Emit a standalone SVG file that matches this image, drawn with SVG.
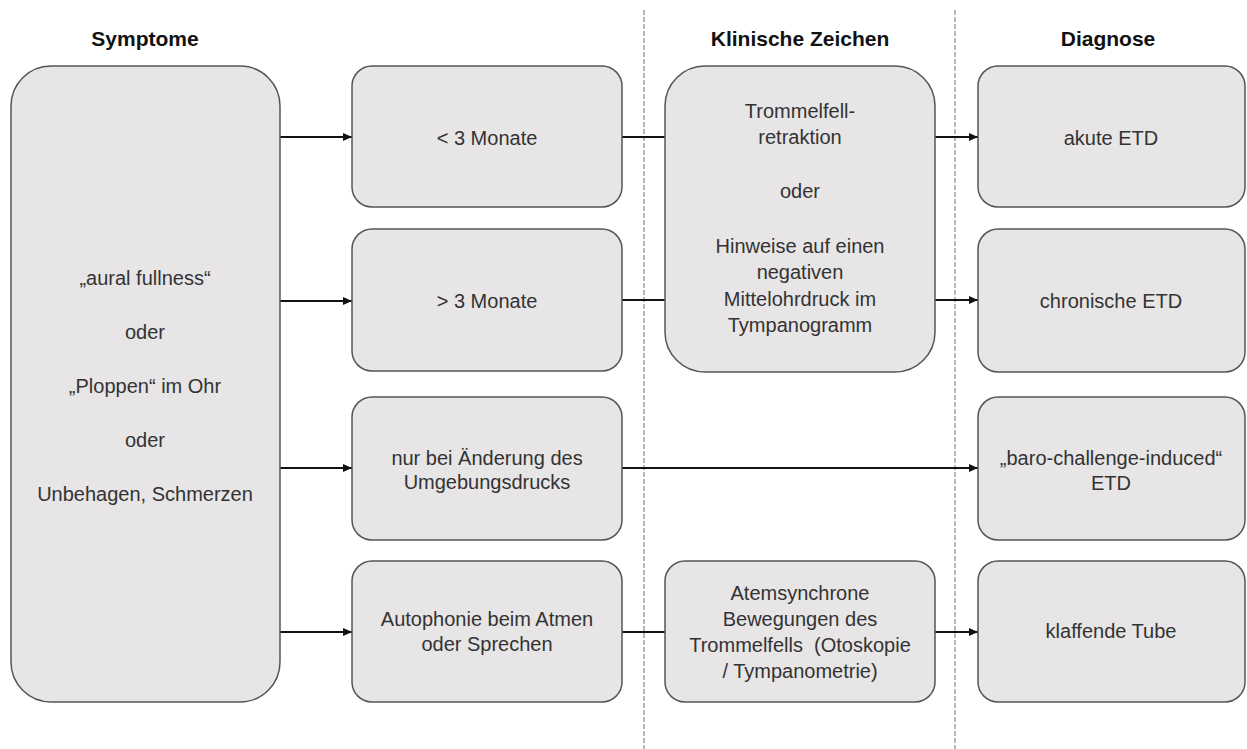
<svg xmlns="http://www.w3.org/2000/svg" width="1247" height="749" viewBox="0 0 1247 749">
<defs>
<style>
.box{fill:#e7e5e6;stroke:#555;stroke-width:1.5}
.t{font-family:"Liberation Sans",Arial,sans-serif;font-size:20px;fill:#333;text-anchor:middle}
.h{font-family:"Liberation Sans",Arial,sans-serif;font-size:21px;font-weight:bold;fill:#111;text-anchor:middle}
.c{stroke:#111;stroke-width:2;fill:none}
.a{marker-end:url(#arr)}
.d{stroke:#888;stroke-width:1.2;stroke-dasharray:5,2;fill:none}
</style>
<marker id="arr" markerUnits="userSpaceOnUse" markerWidth="10" markerHeight="8" refX="9" refY="4" orient="auto">
<path d="M0,0 L9,4 L0,8 z" fill="#111"/>
</marker>
</defs>
<rect width="1247" height="749" fill="#fff"/>
<g id="dividers">
<line class="d" x1="644" y1="10" x2="644" y2="749"/>
<line class="d" x1="955" y1="10" x2="955" y2="749"/>
</g>
<g id="headers">
<text class="h" x="145" y="46">Symptome</text>
<text class="h" x="800" y="46">Klinische Zeichen</text>
<text class="h" x="1108" y="46">Diagnose</text>
</g>
<g id="connectors">
<line class="c a" x1="280" y1="137" x2="352" y2="137"/>
<line class="c a" x1="280" y1="301" x2="352" y2="301"/>
<line class="c a" x1="280" y1="468" x2="352" y2="468"/>
<line class="c a" x1="280" y1="632" x2="352" y2="632"/>
<line class="c" x1="622" y1="137" x2="665" y2="137"/>
<line class="c" x1="622" y1="300" x2="665" y2="300"/>
<line class="c" x1="622" y1="632" x2="665" y2="632"/>
<line class="c a" x1="935" y1="137" x2="978" y2="137"/>
<line class="c a" x1="935" y1="300" x2="978" y2="300"/>
<line class="c a" x1="935" y1="632" x2="978" y2="632"/>
<line class="c a" x1="622" y1="468" x2="978" y2="468"/>
</g>
<g id="symptome">
<rect class="box" x="11" y="66" width="269" height="636" rx="40"/>
<text class="t" x="145" y="285">„aural fullness“</text>
<text class="t" x="145" y="339">oder</text>
<text class="t" x="145" y="393">„Ploppen“ im Ohr</text>
<text class="t" x="145" y="447">oder</text>
<text class="t" x="145" y="501">Unbehagen, Schmerzen</text>
</g>
<g id="lt3">
<rect class="box" x="352" y="66" width="270" height="141" rx="20"/>
<text class="t" x="487" y="145">&lt; 3 Monate</text>
</g>
<g id="gt3">
<rect class="box" x="352" y="229" width="270" height="142" rx="20"/>
<text class="t" x="487" y="308">&gt; 3 Monate</text>
</g>
<g id="druck">
<rect class="box" x="352" y="397" width="270" height="143" rx="20"/>
<text class="t" x="487" y="465">nur bei Änderung des</text>
<text class="t" x="487" y="489">Umgebungsdrucks</text>
</g>
<g id="autophonie">
<rect class="box" x="352" y="561" width="270" height="141" rx="20"/>
<text class="t" x="487" y="626">Autophonie beim Atmen</text>
<text class="t" x="487" y="651">oder Sprechen</text>
</g>
<g id="klinisch">
<rect class="box" x="665" y="66" width="270" height="306" rx="40"/>
<text class="t" x="800" y="118">Trommelfell-</text>
<text class="t" x="800" y="144">retraktion</text>
<text class="t" x="800" y="198">oder</text>
<text class="t" x="800" y="253">Hinweise auf einen</text>
<text class="t" x="800" y="279">negativen</text>
<text class="t" x="800" y="306">Mittelohrdruck im</text>
<text class="t" x="800" y="332">Tympanogramm</text>
</g>
<g id="atem">
<rect class="box" x="665" y="561" width="270" height="141" rx="20"/>
<text class="t" x="800" y="600">Atemsynchrone</text>
<text class="t" x="800" y="626">Bewegungen des</text>
<text class="t" x="800" y="652" xml:space="preserve">Trommelfells  (Otoskopie</text>
<text class="t" x="800" y="678">/ Tympanometrie)</text>
</g>
<g id="akut">
<rect class="box" x="978" y="66" width="267" height="141" rx="20"/>
<text class="t" x="1111" y="145">akute ETD</text>
</g>
<g id="chronisch">
<rect class="box" x="978" y="229" width="267" height="143" rx="20"/>
<text class="t" x="1111" y="308">chronische ETD</text>
</g>
<g id="baro">
<rect class="box" x="978" y="397" width="267" height="143" rx="20"/>
<text class="t" x="1111" y="465">„baro-challenge-induced“</text>
<text class="t" x="1111" y="490">ETD</text>
</g>
<g id="klaffend">
<rect class="box" x="978" y="561" width="267" height="141" rx="20"/>
<text class="t" x="1111" y="638">klaffende Tube</text>
</g>
</svg>
